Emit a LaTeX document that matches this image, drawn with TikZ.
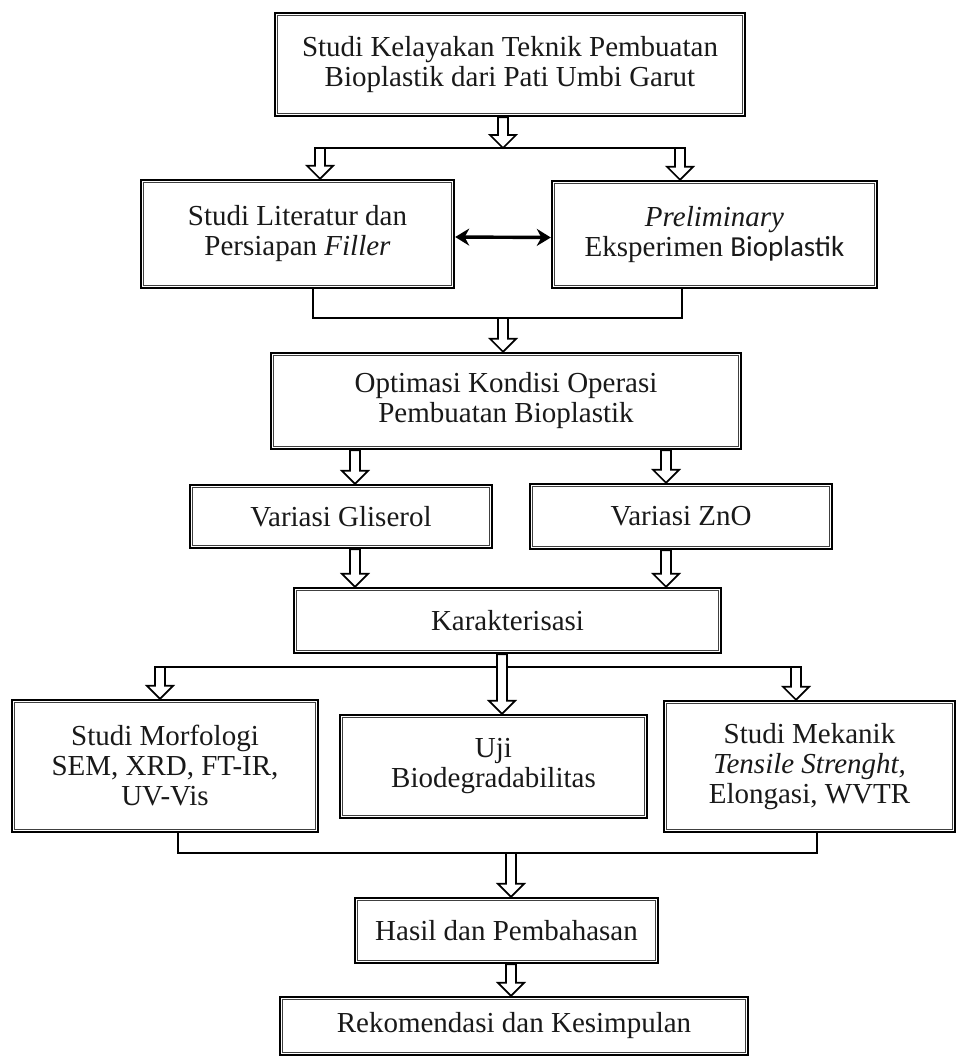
\documentclass[tikz,border=0pt]{standalone}
\usepackage{fontspec}
\setmainfont{Liberation Serif}
\newfontfamily\calib{Carlito}
\usetikzlibrary{arrows.meta,calc}
\tikzset{
  box/.style={draw=black, line width=2.4pt, fill=white, align=center, inner sep=0pt,
    text=black!90, font=\fontsize{29}{30}\selectfont},
  innerline/.style={draw=black!75, line width=0.8pt},
  conn/.style={draw=black, line width=2.2pt, line join=miter},
  blockarr/.style={draw=black, line width=1.7pt, fill=white, line join=miter},
  dblarr/.style={draw=black, line width=3.4pt,
    {Stealth[length=14pt,width=17pt]}-{Stealth[length=14pt,width=17pt]}}
}
\newcommand\blockarrow[2]{%
  \path[blockarr] let \p1=#1, \p2=#2 in
    (\x1-5pt,\y1) -- (\x1-5pt,\y2+13pt) -- (\x1-13pt,\y2+13pt) -- (\x1,\y2)
    -- (\x1+13pt,\y2+13pt) -- (\x1+5pt,\y2+13pt) -- (\x1+5pt,\y1) -- cycle;}
\begin{document}
\begin{tikzpicture}[x=1pt,y=-1pt]
\fill[white] (0,0) rectangle (960,1059);
\useasboundingbox (0,0) rectangle (960,1059);

% boxes
\node[box, minimum width=470pt, minimum height=103pt] (top) at (510,64.5)
  {Studi Kelayakan Teknik Pembuatan\\Bioplastik dari Pati Umbi Garut};
\node[box, minimum width=313pt, minimum height=108pt] (lit) at (297.5,234)
  {Studi Literatur dan\\Persiapan \textit{Filler}};
\node[box, minimum width=325pt, minimum height=107pt] (pre) at (714.5,234.5)
  {\textit{Preliminary}\\Eksperimen {\calib Bioplastik}};
\node[box, minimum width=470pt, minimum height=96pt] (opt) at (506,401)
  {Optimasi Kondisi Operasi\\Pembuatan Bioplastik};
\node[box, minimum width=302pt, minimum height=63pt] (gli) at (341,516.5)
  {Variasi Gliserol};
\node[box, minimum width=302pt, minimum height=65pt] (zno) at (681,516.5)
  {Variasi ZnO};
\node[box, minimum width=427pt, minimum height=65pt] (kar) at (507.5,620.5)
  {Karakterisasi};
\node[box, minimum width=306pt, minimum height=132pt] (mor) at (165,766)
  {Studi Morfologi\\SEM, XRD, FT-IR,\\UV-Vis};
\node[box, minimum width=307pt, minimum height=103pt] (uji) at (493.5,766.5)
  {Uji\\Biodegradabilitas};
\node[box, minimum width=291pt, minimum height=131pt] (mek) at (809.5,766.5)
  {Studi Mekanik\\\textit{Tensile Strenght,}\\Elongasi, WVTR};
\node[box, minimum width=303pt, minimum height=65pt] (has) at (506.5,930.5)
  {Hasil dan Pembahasan};
\node[box, minimum width=468pt, minimum height=58pt] (rek) at (514,1026)
  {Rekomendasi dan Kesimpulan};

\foreach \n in {top,lit,pre,opt,gli,zno,kar,mor,uji,mek,has,rek}
  \draw[innerline] ([shift={(3.4pt,-3.4pt)}]\n.north west) rectangle ([shift={(-3.4pt,3.4pt)}]\n.south east);

% column and junction coordinates
\coordinate (cT) at (503,0);
\coordinate (cL1) at (320,0);
\coordinate (cR1) at (680,0);
\coordinate (cL2) at (355,0);
\coordinate (cR2) at (666,0);
\coordinate (cM) at (502,0);
\coordinate (cL3) at (160,0);
\coordinate (cR3) at (796,0);
\coordinate (cB) at (511,0);
\coordinate (j1L) at (316,148);
\coordinate (j1R) at (684,148);
\coordinate (k1L) at (313,318);
\coordinate (k1R) at (682,318);
\coordinate (j2L) at (156,667);
\coordinate (j2R) at (802,667);
\coordinate (k2L) at (178,853);
\coordinate (k2R) at (817,853);

% top split
\draw[conn] (j1L) -- (j1R);
\blockarrow{(top.south -| cT)}{(j1L -| cT)}
\blockarrow{(j1L -| cL1)}{(lit.north -| cL1)}
\blockarrow{(j1L -| cR1)}{(pre.north -| cR1)}

% double arrow
\draw[dblarr] ([yshift=-3pt]lit.east) -- ([yshift=-3pt]pre.west);

% bracket 1
\draw[conn] (lit.south -| k1L) -- (k1L) -- (k1R) -- (pre.south -| k1R);
\blockarrow{(k1L -| cT)}{(opt.north -| cT)}

% optimasi to variations
\blockarrow{(opt.south -| cL2)}{(gli.north -| cL2)}
\blockarrow{(opt.south -| cR2)}{(zno.north -| cR2)}
\blockarrow{(gli.south -| cL2)}{(kar.north -| cL2)}
\blockarrow{(zno.south -| cR2)}{(kar.north -| cR2)}

% karakterisasi split
\draw[conn] (j2L) -- (j2R);
\blockarrow{(kar.south -| cM)}{(uji.north -| cM)}
\blockarrow{(j2L -| cL3)}{(mor.north -| cL3)}
\blockarrow{(j2L -| cR3)}{(mek.north -| cR3)}

% bracket 2
\draw[conn] (mor.south -| k2L) -- (k2L) -- (k2R) -- (mek.south -| k2R);
\blockarrow{(k2L -| cB)}{(has.north -| cB)}
\blockarrow{(has.south -| cB)}{(rek.north -| cB)}
\end{tikzpicture}
\end{document}
